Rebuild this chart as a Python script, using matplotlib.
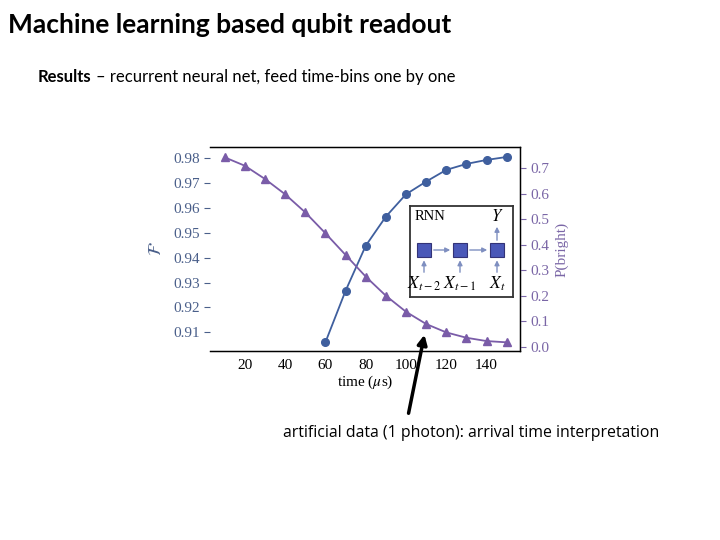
import matplotlib
matplotlib.use("Agg")
import matplotlib.pyplot as plt
from matplotlib.patches import Rectangle, FancyArrowPatch

plt.rcParams["mathtext.fontset"] = "stix"

# ---- data ----
time_fid = [60, 70, 80, 90, 100, 110, 120, 130, 140, 150]
fidelity = [0.906, 0.9267, 0.9448, 0.9565, 0.9655, 0.9706, 0.9753, 0.9777, 0.9793, 0.9805]
time_pb = [10, 20, 30, 40, 50, 60, 70, 80, 90, 100, 110, 120, 130, 140, 150]
p_bright = [0.743, 0.710, 0.658, 0.598, 0.527, 0.445, 0.360, 0.275, 0.200, 0.137,
            0.089, 0.056, 0.035, 0.022, 0.017]
x_ticks = [20, 40, 60, 80, 100, 120, 140]
left_ticks = [0.91, 0.92, 0.93, 0.94, 0.95, 0.96, 0.97, 0.98]
right_ticks = [0.0, 0.1, 0.2, 0.3, 0.4, 0.5, 0.6, 0.7]

BLUE = "#3f5f9e"
PURPLE = "#7a5ca8"
BLUE_TXT = "#4a5f8a"
PURPLE_TXT = "#7a66a6"
SERIF = "Liberation Serif"

W, H = 720, 540
fig = plt.figure(figsize=(7.2, 5.4), dpi=100)

def fx(px):
    return px / W

def fy(py):
    return 1 - py / H

# Titles
fig.text(fx(8), fy(25), "Machine learning based qubit readout", fontsize=19,
         fontweight="bold", family="Lato", va="center", ha="left")
fig.text(fx(38), fy(77), "Results", fontsize=12, fontweight="bold",
         family="Lato", va="center", ha="left")
fig.text(fx(96), fy(77), "\u2013 recurrent neural net, feed time-bins one by one",
         fontsize=12, family="Lato", va="center", ha="left")

# Main axes
ax = fig.add_axes([fx(210), fy(351), fx(520) - fx(210), (351 - 147) / H])
ax.plot(time_fid, fidelity, color=BLUE, marker="o", markersize=5.5, linewidth=1.3)
ax.set_xlim(2.7, 156.6)
ax.set_ylim(0.9025, 0.9845)
ax.set_xticks(x_ticks)
ax.set_yticks(left_ticks)
ax.spines["left"].set_visible(False)
for s in ["top", "bottom", "right"]:
    ax.spines[s].set_linewidth(1.0)
ax.tick_params(axis="y", colors=BLUE_TXT, labelsize=11, length=4, width=0.8)
ax.tick_params(axis="x", labelsize=11, length=0, pad=6)
for lab in ax.get_xticklabels() + ax.get_yticklabels():
    lab.set_family(SERIF)
for lab in ax.get_yticklabels():
    lab.set_color(BLUE_TXT)
ax.set_xlabel(r"time ($\mu$s)", family=SERIF, fontsize=11, labelpad=1)
ax.set_ylabel(r"$\mathcal{F}$", color=BLUE_TXT, fontsize=13, labelpad=6)

ax2 = ax.twinx()
ax2.plot(time_pb, p_bright, color=PURPLE, marker="^", markersize=6, linewidth=1.3)
ax2.set_ylim(-0.017, 0.7836)
ax2.set_yticks(right_ticks)
ax2.spines["left"].set_visible(False)
ax2.tick_params(axis="y", colors=PURPLE_TXT, labelsize=11, length=4, width=0.8)
for lab in ax2.get_yticklabels():
    lab.set_family(SERIF)
ax2.set_ylabel("P(bright)", color=PURPLE_TXT, family=SERIF, fontsize=11, labelpad=4)

# Inset RNN diagram
ins = fig.add_axes([fx(410), fy(297), fx(513) - fx(410), (297 - 206) / H])
ins.set_xlim(410, 513)
ins.set_ylim(297, 206)
ins.set_xticks([])
ins.set_yticks([])
for s in ins.spines.values():
    s.set_linewidth(1.3)
    s.set_color("#333333")
ins.set_zorder(5)
ins.text(415, 217, "RNN", family=SERIF, fontsize=10.5, va="center", ha="left")
centers = [424, 460, 497]
sq = 14
arrow_col = "#7f8fc0"
for c in centers:
    ins.add_patch(Rectangle((c - sq / 2, 250 - sq / 2), sq, sq, facecolor="#4a58b8",
                            edgecolor="#333377", linewidth=0.8, zorder=3))
    ins.add_patch(FancyArrowPatch((c, 275), (c, 257.5), arrowstyle="-|>",
                                  mutation_scale=7, color=arrow_col, linewidth=1))
for a, b in [(centers[0], centers[1]), (centers[1], centers[2])]:
    ins.add_patch(FancyArrowPatch((a + 7, 250), (b - 7, 250), arrowstyle="-|>",
                                  mutation_scale=7, color=arrow_col, linewidth=1))
ins.add_patch(FancyArrowPatch((497, 243), (497, 224), arrowstyle="-|>",
                              mutation_scale=7, color=arrow_col, linewidth=1))
ins.text(497, 216, r"$Y$", fontsize=12, va="center", ha="center")
ins.text(424, 284, r"$X_{t-2}$", fontsize=12.5, va="center", ha="center")
ins.text(460, 284, r"$X_{t-1}$", fontsize=12.5, va="center", ha="center")
ins.text(497, 284, r"$X_{t}$", fontsize=12.5, va="center", ha="center")

# Annotation
fig.text(fx(283), fy(433), "artificial data (1 photon): arrival time interpretation",
         fontsize=11.4, family="Open Sans", va="center", ha="left")
fig.patches.append(FancyArrowPatch((fx(408), fy(416)), (fx(425), fy(332)),
                                   transform=fig.transFigure, arrowstyle="-|>",
                                   mutation_scale=14, color="black", linewidth=2.5,
                                   zorder=10))

fig.savefig("out.png", dpi=100)
